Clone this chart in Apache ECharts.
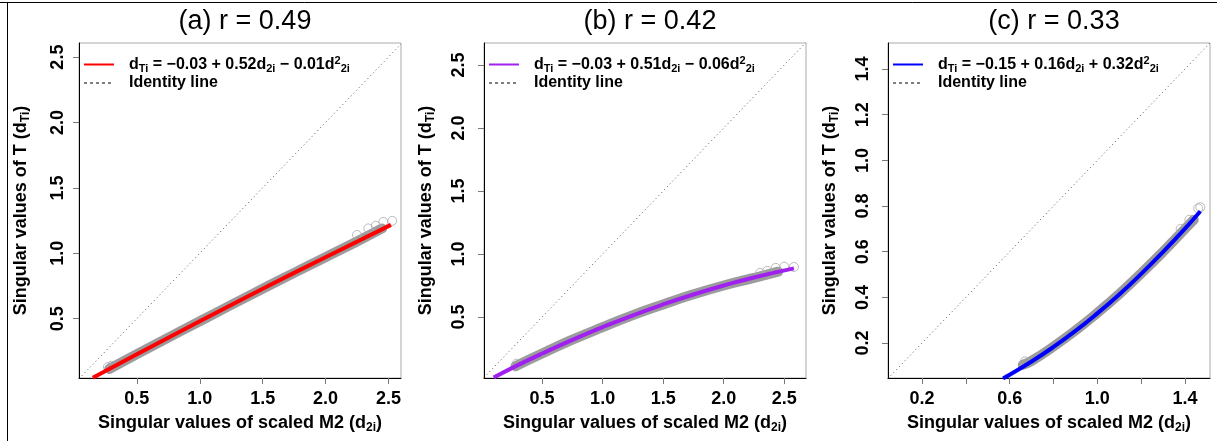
<!DOCTYPE html>
<html>
<head>
<meta charset="utf-8">
<script src="https://cdn.jsdelivr.net/npm/echarts@6/dist/echarts.min.js"></script>
<style>
  html, body { margin: 0; padding: 0; background: #fff; }
  #chart { width: 1217px; height: 441px; }
</style>
</head>
<body>
<div id="chart"></div>
<script>
// panel titles and fitted equation coefficients (as printed in the legends)
const titles = ['(a) r = 0.49', '(b) r = 0.42', '(c) r = 0.33']
const eqCoefs = [['−0.03', '+ 0.52', '− 0.01'], ['−0.03', '+ 0.51', '− 0.06'], ['−0.15', '+ 0.16', '+ 0.32']]
const fitColors = ['#ff0000', '#a020f0', '#0000ff']

// axis ranges, ticks and labelled ticks
const xRanges = [[0.04, 2.6], [0.02, 2.68], [0.045, 1.514]]
const yRanges = [[0.046, 2.608], [0.016, 2.675], [0.047, 1.514]]
const xTicks = [[0.5, 1.0, 1.5, 2.0, 2.5], [0.5, 1.0, 1.5, 2.0, 2.5], [0.2, 0.4, 0.6, 0.8, 1.0, 1.2, 1.4]]
const xTickLabels = [[0.5, 1.0, 1.5, 2.0, 2.5], [0.5, 1.0, 1.5, 2.0, 2.5], [0.2, 0.6, 1.0, 1.4]]
const yTicks = [[0.5, 1.0, 1.5, 2.0, 2.5], [0.5, 1.0, 1.5, 2.0, 2.5], [0.2, 0.4, 0.6, 0.8, 1.0, 1.2, 1.4]]

// fitted curves [d2i, dTi]
const fitA = [[0.15, 0.048], [0.5, 0.228], [1.0, 0.48], [1.5, 0.728], [2.0, 0.97], [2.52, 1.217]]
const fitB = [[0.1, 0.02], [0.3, 0.118], [0.5, 0.21], [0.75, 0.319], [1.0, 0.42], [1.25, 0.514],
  [1.5, 0.6], [1.75, 0.679], [2.0, 0.75], [2.25, 0.814], [2.58, 0.886]]
const fitC = [[0.57, 0.045], [0.6, 0.061], [0.7, 0.119], [0.8, 0.183], [0.9, 0.253], [1.0, 0.33],
  [1.1, 0.413], [1.2, 0.503], [1.3, 0.599], [1.4, 0.701], [1.47, 0.777]]

// dense cloud of observed singular values (grey band centre)
const bandA = [[0.28, 0.115], [0.5, 0.228], [0.75, 0.355], [1.0, 0.48], [1.25, 0.605], [1.5, 0.728],
  [1.75, 0.85], [2.0, 0.97], [2.25, 1.09], [2.45, 1.19]]
const bandB = [[0.28, 0.11], [0.5, 0.21], [0.75, 0.32], [1.0, 0.42], [1.25, 0.515], [1.5, 0.6],
  [1.75, 0.68], [2.0, 0.75], [2.25, 0.81], [2.45, 0.86]]
const bandC = [[0.66, 0.105], [0.7, 0.122], [0.8, 0.185], [0.9, 0.255], [1.0, 0.332], [1.1, 0.415],
  [1.2, 0.505], [1.3, 0.6], [1.4, 0.7], [1.44, 0.74]]

// sparse points at the ends of the cloud
const ringsA = [[0.27, 0.13], [0.3, 0.14], [2.25, 1.14], [2.34, 1.19], [2.4, 1.21], [2.46, 1.24], [2.53, 1.248]]
const ringsB = [[0.29, 0.13], [2.3, 0.85], [2.36, 0.866], [2.43, 0.89], [2.5, 0.9], [2.58, 0.897]]
const ringsC = [[0.67, 0.12], [1.38, 0.7], [1.42, 0.74], [1.46, 0.79], [1.47, 0.795]]

const fits = [fitA, fitB, fitC]
const bands = [bandA, bandB, bandC]
const rings = [ringsA, ringsB, ringsC]

const FONT = '"Liberation Sans", Arial, sans-serif'
const gridLefts = [79, 484, 888]
const GRID_W = 322, GRID_TOP = 43, GRID_H = 335

const richBase = {
  b: { fontSize: 16, fontWeight: 'bold', fontFamily: FONT, color: '#000', lineHeight: 19 },
  s: { fontSize: 11, fontWeight: 'bold', fontFamily: FONT, color: '#000', verticalAlign: 'bottom', lineHeight: 12 },
  p: { fontSize: 11, fontWeight: 'bold', fontFamily: FONT, color: '#000', verticalAlign: 'top', lineHeight: 12 },
}
const richAxis = {
  b: { fontSize: 18, fontWeight: 'bold', fontFamily: FONT, color: '#000', lineHeight: 22 },
  s: { fontSize: 12, fontWeight: 'bold', fontFamily: FONT, color: '#000', verticalAlign: 'bottom', lineHeight: 14 },
}

const grid = [], xAxis = [], yAxis = [], series = [], legend = [], title = []
const fmt = v => v.toFixed(1)

for (let i = 0; i < 3; i++) {
  const gl = gridLefts[i]
  grid.push({ left: gl, top: GRID_TOP, width: GRID_W, height: GRID_H, show: true,
    borderColor: '#aaa', borderWidth: 1, backgroundColor: 'transparent' })
  title.push({ text: titles[i], left: gl + GRID_W / 2, top: 3, textAlign: 'center',
    textStyle: { fontFamily: FONT, fontSize: 27, fontWeight: 'normal', color: '#000' } })

  xAxis.push({
    gridIndex: i, type: 'value', min: xRanges[i][0], max: xRanges[i][1],
    splitLine: { show: false },
    axisLine: { show: true, onZero: false, lineStyle: { color: '#000', width: 1 } },
    axisTick: { show: true, length: 6, customValues: xTicks[i], lineStyle: { color: '#777' } },
    axisLabel: { customValues: xTickLabels[i], formatter: fmt, margin: 12,
      fontFamily: FONT, fontSize: 18, fontWeight: 'bold', color: '#000' },
    name: '{b|Singular values of scaled M2 (d}{s|2i}{b|)}', nameLocation: 'middle', nameGap: 34,
    nameTextStyle: { rich: richAxis },
  })
  yAxis.push({
    gridIndex: i, type: 'value', min: yRanges[i][0], max: yRanges[i][1],
    splitLine: { show: false },
    axisLine: { show: true, onZero: false, lineStyle: { color: '#000', width: 1 } },
    axisTick: { show: true, length: 6, customValues: yTicks[i], lineStyle: { color: '#777' } },
    axisLabel: { customValues: yTicks[i], formatter: fmt, rotate: 90, margin: i === 0 ? 12 : 16,
      fontFamily: FONT, fontSize: 18, fontWeight: 'bold', color: '#000' },
    name: '{b|Singular values of T (d}{s|Ti}{b|)}', nameLocation: 'middle', nameGap: 47,
    nameTextStyle: { rich: richAxis },
  })

  const fitName = 'fit' + i, idName = 'id' + i
  series.push({
    name: 'band' + i, type: 'line', xAxisIndex: i, yAxisIndex: i, data: bands[i],
    showSymbol: false, smooth: true, silent: true, z: 1,
    lineStyle: { color: '#9c9c9c', width: 10, cap: 'round' },
  })
  series.push({
    name: 'rings' + i, type: 'scatter', xAxisIndex: i, yAxisIndex: i, data: rings[i],
    symbol: 'circle', symbolSize: 9, silent: true, z: 2,
    itemStyle: { color: 'transparent', borderColor: '#aaa', borderWidth: 1 },
  })
  series.push({
    name: idName, type: 'line', xAxisIndex: i, yAxisIndex: i,
    data: [[xRanges[i][0], xRanges[i][0]], [xRanges[i][1], xRanges[i][1]]],
    showSymbol: false, symbol: 'none', z: 3,
    itemStyle: { color: '#000' },
    lineStyle: { color: '#555', width: 1, type: [1, 3] },
  })
  series.push({
    name: fitName, type: 'line', xAxisIndex: i, yAxisIndex: i, data: fits[i],
    showSymbol: false, symbol: 'none', smooth: true, z: 4,
    itemStyle: { color: fitColors[i] },
    lineStyle: { color: fitColors[i], width: 4 },
  })

  const c = eqCoefs[i]
  legend.push({
    data: [
      { name: fitName, lineStyle: { color: fitColors[i], width: 2 } },
      { name: idName, lineStyle: { color: '#000', type: [3, 3], width: 1 } },
    ],
    orient: 'vertical', left: gl + 4, top: 55, padding: 0, itemGap: 1,
    itemWidth: 30, itemHeight: 18, selectedMode: false,
    itemStyle: { opacity: 0, borderWidth: 0 },
    textStyle: { padding: [0, 0, 0, 10], rich: richBase },
    formatter: name => name === fitName
      ? `{b|d}{s|Ti}{b| = ${c[0]} ${c[1]}d}{s|2i}{b| ${c[2]}d}{p|2}{s|2i}`
      : '{b|Identity line}',
  })
}

const chart = echarts.init(document.getElementById('chart'), null, { renderer: 'canvas' })
chart.setOption({
  animation: false,
  backgroundColor: '#fff',
  title, grid, xAxis, yAxis, series, legend,
  graphic: [
    { type: 'line', shape: { x1: 0, y1: 2.5, x2: 1217, y2: 2.5 }, style: { stroke: '#000', lineWidth: 1 } },
    { type: 'line', shape: { x1: 7.5, y1: 2, x2: 7.5, y2: 441 }, style: { stroke: '#000', lineWidth: 1 } },
  ],
})
</script>
</body>
</html>
